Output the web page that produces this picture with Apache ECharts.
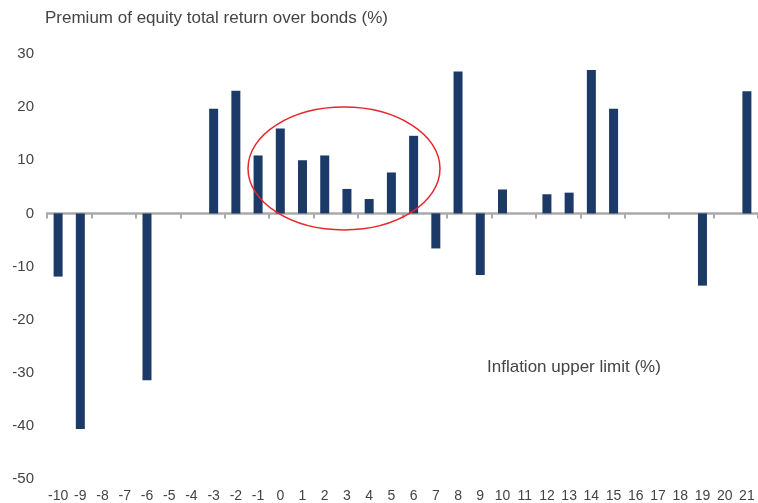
<!DOCTYPE html>
<html lang="en" style="height: 100%">
  <head>
    <meta charset="utf-8" />
  </head>
  <body style="height: 100%; margin: 0; background: #fff">
    <div id="container" style="width: 758px; height: 503px"></div>

    <script src="https://cdn.jsdelivr.net/npm/echarts@6/dist/echarts.min.js"></script>

    <script type="text/javascript">
      // inflation upper limit (%) categories
      var categories = [
        "-10", "-9", "-8", "-7", "-6", "-5", "-4", "-3", "-2", "-1", "0",
        "1", "2", "3", "4", "5", "6", "7", "8", "9", "10", "11", "12", "13",
        "14", "15", "16", "17", "18", "19", "20", "21",
      ];
      // premium of equity total return over bonds (%)
      var premium = [
        -11.9, -40.6, null, null, -31.4, null, null, 19.7, 23.1, 10.9, 16.0,
        10.0, 10.9, 4.6, 2.7, 7.7, 14.6, -6.6, 26.7, -11.6, 4.5, null, 3.6,
        3.9, 27.0, 19.7, null, null, null, -13.6, null, 23.0,
      ];

      var dom = document.getElementById("container");
      var myChart = echarts.init(dom, null, { renderer: "canvas" });

      var font = "Liberation Sans";
      var option = {
        animation: false,
        textStyle: { fontFamily: font },
        grid: { left: 47, right: -4, top: 54, bottom: 23 },
        graphic: [
          {
            type: "text",
            left: 45,
            top: 10,
            style: {
              text: "Premium of equity total return over bonds (%)",
              font: "17px " + font,
              fill: "#444",
            },
          },
          {
            type: "text",
            left: 487,
            top: 359,
            style: {
              text: "Inflation upper limit (%)",
              font: "17px " + font,
              fill: "#444",
            },
          },
          {
            type: "ellipse",
            shape: { cx: 344, cy: 168.5, rx: 96, ry: 61.5 },
            style: { fill: null, stroke: "#e8262b", lineWidth: 1.5 },
            z: 100,
          },
        ],
        xAxis: [
          {
            type: "category",
            data: categories,
            axisLine: {
              onZero: true,
              lineStyle: { color: "#aaaaaa", width: 2.5 },
            },
            axisTick: {
              show: true,
              length: 5,
              lineStyle: { color: "#aaaaaa", width: 2 },
            },
            axisLabel: { show: false },
          },
          {
            type: "category",
            data: categories,
            position: "bottom",
            axisLine: { show: false, onZero: false },
            axisTick: { show: false },
            axisLabel: {
              interval: 0,
              margin: 10,
              fontSize: 14,
              color: "#444",
            },
          },
        ],
        yAxis: {
          type: "value",
          min: -50,
          max: 30,
          interval: 10,
          splitLine: { show: false },
          axisLine: { show: false },
          axisTick: { show: false },
          axisLabel: { fontSize: 15, color: "#444", margin: 13 },
        },
        series: [
          {
            type: "bar",
            data: premium,
            barWidth: 9,
            itemStyle: { color: "#1b3a68" },
          },
        ],
      };

      myChart.setOption(option);
      window.addEventListener("resize", myChart.resize);
    </script>
  </body>
</html>
